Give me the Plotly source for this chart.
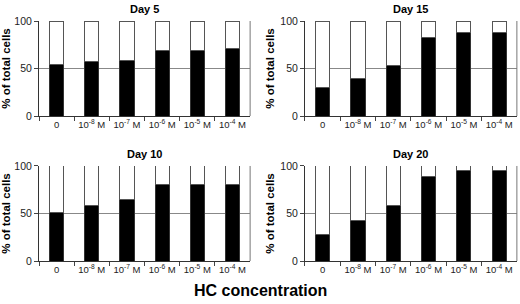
import plotly.graph_objects as go

categories = ["0", "10<sup>-8</sup> M", "10<sup>-7</sup> M", "10<sup>-6</sup> M", "10<sup>-5</sup> M", "10<sup>-4</sup> M"]
day5 = [54, 57, 58, 69, 69, 71]
day15 = [30, 40, 53, 83, 88, 88]
day10 = [51, 58, 65, 80, 81, 81]
day20 = [28, 43, 58, 89, 95, 95]
panel_titles = ["Day 5", "Day 15", "Day 10", "Day 20"]
panels = [day5, day15, day10, day20]
y_ticks = [0, 50, 100]

FONT = "Liberation Sans, Arial, sans-serif"
xdoms = [[0.075, 0.481], [0.5865, 0.994]]
ydoms = [[0.6184, 0.9309], [0.1414, 0.454]]

fig = go.Figure()
layout = dict(
    width=520, height=304, margin=dict(l=0, r=0, t=0, b=0, autoexpand=False),
    paper_bgcolor="white", plot_bgcolor="white",
    barmode="stack", bargap=0.6, showlegend=False,
    font=dict(family=FONT, size=11, color="black"),
)
annotations = []
shapes = []
for i, (vals, title) in enumerate(zip(panels, panel_titles)):
    r, c = divmod(i, 2)
    n = i + 1
    xa = "x" if n == 1 else f"x{n}"
    ya = "y" if n == 1 else f"y{n}"
    fig.add_trace(go.Bar(x=categories, y=vals, xaxis=xa, yaxis=ya,
                         marker=dict(color="black", line=dict(color="#333333", width=1)),
                         width=0.4))
    fig.add_trace(go.Bar(x=categories, y=[100 - v for v in vals], xaxis=xa, yaxis=ya,
                         marker=dict(color="white", line=dict(color="#555555", width=1)),
                         width=0.4))
    xk = "xaxis" if n == 1 else f"xaxis{n}"
    yk = "yaxis" if n == 1 else f"yaxis{n}"
    layout[xk] = dict(domain=xdoms[c], anchor=ya, type="category", tickson="boundaries",
                      ticks="outside", ticklen=4, tickcolor="#444", showline=True,
                      linecolor="#333", linewidth=1, showgrid=False, automargin=False,
                      tickfont=dict(size=9.5, family=FONT, color="#222"), tickangle=0)
    layout[yk] = dict(domain=ydoms[r], anchor=xa, range=[0, 100], tickvals=y_ticks,
                      ticks="outside", ticklen=4, tickcolor="#444", showline=True,
                      linecolor="#333", linewidth=1, showgrid=True, gridcolor="#888",
                      gridwidth=1, zeroline=False, automargin=False,
                      tickfont=dict(size=10.5, family=FONT, color="#222"),
                      title=dict(text="<b>% of total cells</b>", font=dict(size=11.5, family=FONT),
                                 standoff=3))
    shapes.append(dict(type="line", xref=f"{xa} domain", yref=f"{ya} domain",
                       x0=1, x1=1, y0=0, y1=1, line=dict(color="#777", width=1)))
    annotations.append(dict(text=f"<b>{title}</b>", xref="paper", yref="paper",
                            x=sum(xdoms[c]) / 2, y=ydoms[r][1] + 0.012,
                            xanchor="center", yanchor="bottom", showarrow=False,
                            font=dict(size=11, family=FONT)))
annotations.append(dict(text="<b>HC concentration</b>", xref="paper", yref="paper",
                        x=0.5, y=0.043, xanchor="center", yanchor="middle", showarrow=False,
                        font=dict(size=16, family=FONT)))
layout["annotations"] = annotations
layout["shapes"] = shapes
fig.update_layout(**layout)
fig.write_html("out.html", config={"displayModeBar": False},
               post_script="document.body.style.margin='0px';document.body.style.overflow='hidden';")
